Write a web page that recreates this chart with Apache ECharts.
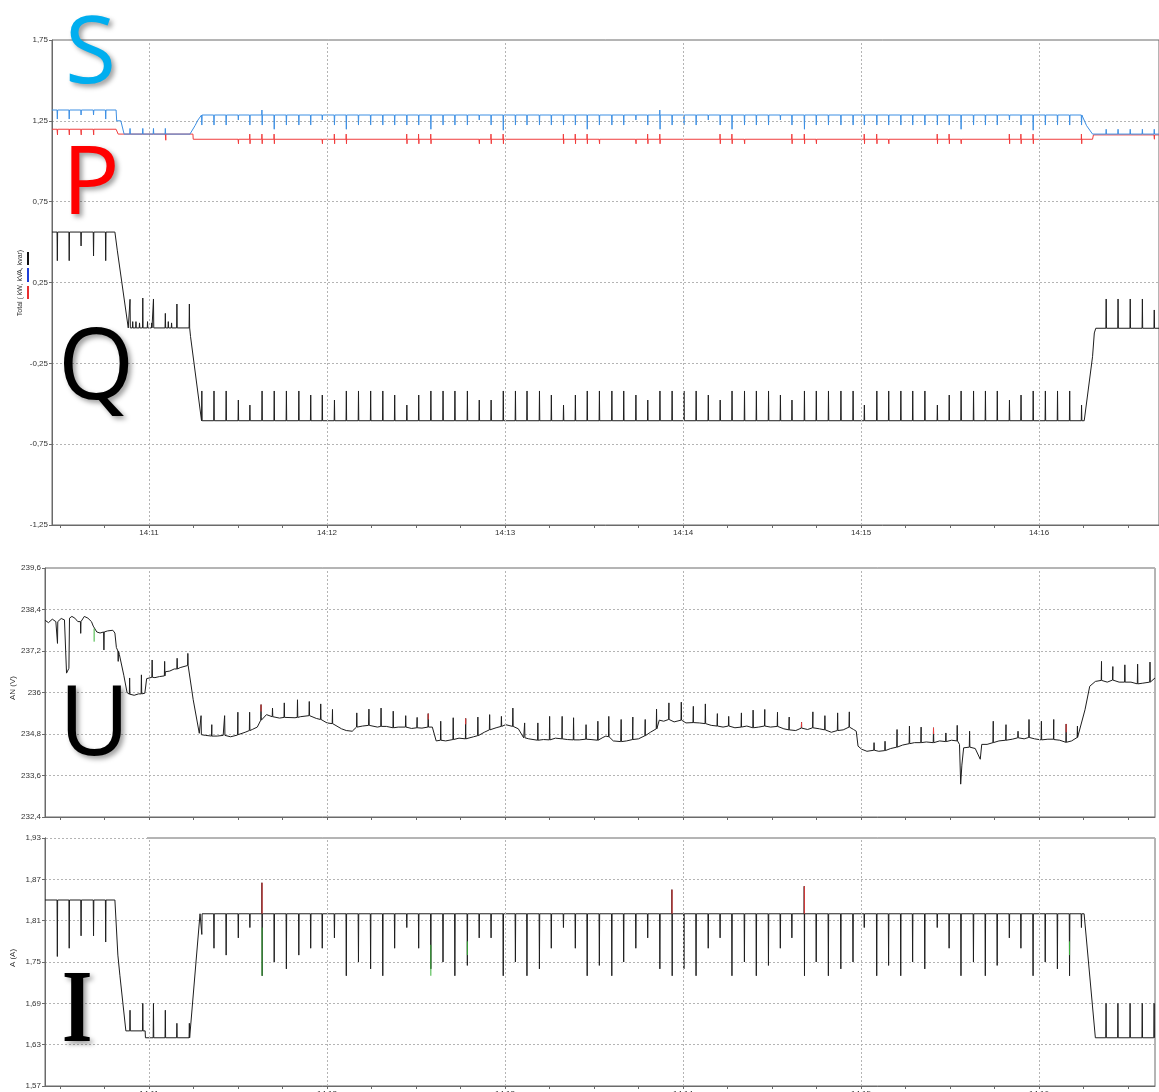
<!DOCTYPE html>
<html><head><meta charset="utf-8">
<script src="https://cdn.jsdelivr.net/npm/echarts@6/dist/echarts.min.js"></script>
<style>html,body{margin:0;padding:0;background:#fff}#c{width:1159px;height:1092px}</style>
</head><body><div id="c"></div>
<script>
// ---------- axes / ticks ----------
const xLabelSec = [60, 120, 180, 240, 300, 360];
const xLabelText = ['14:11', '14:12', '14:13', '14:14', '14:15', '14:16'];
const xMinorSec = [30,45,60,75,90,105,120,135,150,165,180,195,210,225,240,255,270,285,300,315,330,345,360,375,390];
const yTopLabels = ['-1,25', '-0,75', '-0,25', '0,25', '0,75', '1,25', '1,75'];
const yMidLabels = ['232,4', '233,6', '234,8', '236', '237,2', '238,4', '239,6'];
const yBotLabels = ['1,57', '1,63', '1,69', '1,75', '1,81', '1,87', '1,93'];

// ---------- shared pulse times (s after 14:10:00) ----------
const pulseT = [77.8,81.9,86.0,90.1,94.0,98.1,102.2,106.3,110.5,114.5,118.4,122.5,126.5,130.6,134.7,138.8,142.8,146.9,150.9,155.0,
  159.1,163.1,167.3,171.3,175.3,179.4,183.5,187.4,191.6,195.6,199.7,203.7,207.7,211.8,216.0,220.0,224.1,228.1,232.2,236.3,
  240.3,244.4,248.5,252.5,256.5,260.7,264.7,268.8,272.8,276.7,280.9,284.9,289.0,293.2,297.3,301.1,305.3,309.3,313.4,317.4,
  321.5,325.7,329.7,333.7,337.9,341.9,345.9,350.0,353.9,358.0,362.1,366.2,370.3,374.3];
const leftPulseT = [29.1, 33.1, 37.1, 41.3, 45.4];
const lowPulseT = [53.6, 57.9, 61.5, 65.5, 69.4, 73.6];
const rightPulseT = [382.6, 386.6, 390.7, 394.8, 398.8];

// ---------- Q (kvar) ----------
const qBaseT = [27.3, 48.5, 49.3, 53.0, 73.8, 74.0, 77.8, 375.2, 378.0, 378.6, 379.1, 400.4];
const qBaseV = [0.562, 0.562, 0.45, -0.031, -0.031, -0.085, -0.605, -0.605, -0.209, -0.062, -0.033, -0.033];
const qPulse = [-0.421,-0.421,-0.421,-0.477,-0.508,-0.421,-0.421,-0.421,-0.421,-0.446,-0.446,-0.477,-0.421,-0.421,-0.421,-0.421,-0.446,-0.508,-0.446,-0.421,
  -0.421,-0.421,-0.421,-0.477,-0.477,-0.421,-0.421,-0.421,-0.421,-0.446,-0.508,-0.446,-0.421,-0.421,-0.421,-0.421,-0.446,-0.477,-0.421,-0.421,
  -0.421,-0.421,-0.446,-0.477,-0.421,-0.421,-0.421,-0.421,-0.446,-0.477,-0.421,-0.421,-0.421,-0.421,-0.421,-0.508,-0.421,-0.421,-0.421,-0.421,
  -0.421,-0.508,-0.446,-0.421,-0.421,-0.421,-0.421,-0.477,-0.446,-0.421,-0.421,-0.421,-0.421,-0.508];
const qLeft = [0.385, 0.385, 0.476, 0.414, 0.385];
const qLow = [0.146, 0.154, 0.148, 0.059, 0.117, 0.117];
const qSmallT = [54.5, 55.6, 56.8, 59.5, 60.9, 66.5, 67.6];
const qSmallV = [0.008, 0.008, 0.0, 0.008, 0.0, 0.008, 0.0];
const qRight = [0.148, 0.148, 0.148, 0.148, 0.080];

// ---------- S (kVA) ----------
const sBaseT = [27.3, 48.9, 49.1, 50.5, 51.6, 73.8, 75.5, 76.5, 77.7, 374.3, 376.0, 378.0, 400.4];
const sBaseV = [1.317, 1.317, 1.25, 1.25, 1.168, 1.168, 1.22, 1.255, 1.286, 1.286, 1.22, 1.168, 1.168];
const sPulse = [1.224,1.224,1.224,1.255,1.224,1.224,1.198,1.224,1.224,1.224,1.255,1.224,1.198,1.224,1.224,1.224,1.224,1.224,1.224,1.198,
  1.224,1.224,1.224,1.255,1.224,1.192,1.224,1.224,1.224,1.224,1.224,1.224,1.198,1.224,1.224,1.224,1.255,1.224,1.198,1.224,
  1.224,1.224,1.255,1.224,1.198,1.224,1.224,1.224,1.255,1.224,1.198,1.224,1.224,1.224,1.224,1.224,1.224,1.224,1.224,1.224,
  1.224,1.224,1.224,1.198,1.224,1.224,1.224,1.255,1.224,1.192,1.224,1.224,1.224,1.224];
const sUpT = [98.1, 232.2];
const sUpV = [1.317, 1.317];
const sLeft = [1.261, 1.261, 1.286, 1.286, 1.261];
const sLowT = [53.6, 57.9, 61.5, 65.5];
const sLowV = [1.203, 1.203, 1.203, 1.203];
const sRight = [1.198, 1.198, 1.198, 1.198, 1.198];

// ---------- P (kW) ----------
const pBaseT = [27.3, 48.9, 49.6, 74.8, 74.9, 378.0, 378.3, 400.4];
const pBaseV = [1.198, 1.198, 1.168, 1.168, 1.136, 1.136, 1.163, 1.163];
const pSpikeT = [29.1,33.1,37.1,41.3,65.6,90.1,94.0,98.1,102.2,118.4,122.5,126.5,146.9,150.9,155.0,171.3,175.3,179.4,199.7,203.7,
  207.7,211.8,224.1,228.1,232.2,252.5,256.5,260.7,276.7,280.9,284.9,301.1,305.3,309.3,325.7,329.7,333.7,350.0,353.9,358.0,374.3,398.8];
const pSpikeHi = [1.198,1.198,1.198,1.198,1.168,1.136,1.168,1.168,1.168,1.136,1.168,1.168,1.168,1.168,1.168,1.136,1.168,1.168,1.168,1.168,
  1.168,1.136,1.136,1.168,1.168,1.168,1.168,1.136,1.168,1.168,1.136,1.168,1.168,1.136,1.168,1.168,1.136,1.168,1.168,1.168,1.168,1.168];
const pSpikeLo = [1.163,1.163,1.163,1.163,1.13,1.108,1.108,1.108,1.108,1.108,1.108,1.108,1.108,1.108,1.108,1.108,1.108,1.108,1.108,1.108,
  1.108,1.108,1.108,1.108,1.108,1.108,1.108,1.108,1.108,1.108,1.108,1.108,1.108,1.108,1.108,1.108,1.108,1.108,1.108,1.108,1.108,1.136];

// ---------- U (V) ----------
const uT = [24.94,26.1,27.4,28.6,30.4,31.5,32.1,32.2,33.0,33.2,34.0,35.0,36.0,38.2,39.4,40.6,41.2,42.4,43.5,46.0,
  47.8,48.5,49.0,50.0,51.5,52.6,55.0,56.5,58.6,59.2,62.0,63.5,65.5,67.0,68.5,70.5,73.0,73.33,74.9,76.95,
  79.1,81.2,83.0,85.0,87.5,90.0,92.4,94.8,96.5,97.8,99.6,102.0,104.0,106.0,109.2,111.0,114.0,116.4,118.0,120.0,
  121.9,124.9,126.5,128.5,130.0,132.0,134.0,137.0,140.0,142.3,144.0,146.5,148.5,150.4,152.0,154.1,155.5,156.8,158.3,160.0,
  162.5,164.5,166.8,169.4,171.0,173.0,174.8,177.0,179.0,180.2,182.6,184.5,186.3,188.0,191.0,193.0,195.0,197.0,199.3,201.0,
  203.1,205.0,207.3,209.0,211.3,213.0,214.0,215.5,216.5,219.0,221.0,223.1,225.0,227.3,229.0,231.0,232.0,233.5,235.3,237.0,
  239.4,241.0,243.5,245.5,247.5,249.5,251.6,253.5,255.4,257.5,259.7,261.5,263.6,265.5,267.6,269.5,271.9,274.0,275.8,278.0,
  280.0,282.0,283.8,286.0,287.8,290.0,292.1,294.0,296.1,297.5,298.4,299.0,300.2,302.0,304.4,306.0,308.1,310.0,312.2,314.0,
  316.3,318.0,320.3,322.0,324.4,326.5,328.6,330.5,332.4,333.2,333.6,334.0,334.6,336.6,338.5,340.2,340.7,342.5,344.6,346.5,
  348.9,351.0,352.9,355.0,356.6,358.5,360.8,363.0,365.0,367.0,369.2,371.0,373.0,373.6,375.5,377.1,379.0,381.1,383.0,384.9,
  387.0,388.9,391.0,393.2,395.0,397.4,399.1];
const uV = [238.09,238.02,238.12,238.05,238.14,238.10,238.05,236.56,236.70,238.15,238.20,238.15,238.05,238.20,238.15,238.05,237.92,237.75,237.72,237.78,
  237.80,237.72,237.30,237.10,236.50,236.00,235.92,235.96,235.98,236.40,236.43,236.46,236.60,236.62,236.68,236.72,236.78,236.75,235.79,234.82,
  234.76,234.74,234.74,234.76,234.72,234.78,234.85,234.93,235.00,235.30,235.36,235.30,235.26,235.30,235.27,235.30,235.33,235.25,235.20,235.12,
  235.10,234.95,234.90,234.88,235.00,235.03,235.05,235.00,235.02,234.98,235.00,235.00,234.96,234.98,234.97,235.00,235.00,234.60,234.62,234.60,
  234.64,234.68,234.66,234.72,234.78,234.85,234.92,234.98,235.02,235.07,235.02,234.95,234.69,234.66,234.62,234.64,234.63,234.68,234.66,234.64,
  234.63,234.63,234.65,234.64,234.62,234.70,234.74,234.72,234.60,234.58,234.60,234.64,234.66,234.75,234.85,234.95,235.20,235.17,235.22,235.15,
  235.20,235.12,235.13,235.12,235.10,235.05,235.03,235.00,235.03,234.98,235.00,235.03,234.98,235.00,235.03,235.00,235.02,234.95,234.92,234.90,
  234.97,234.93,234.98,234.95,234.92,234.85,234.90,234.92,235.00,234.93,234.88,234.45,234.36,234.30,234.33,234.30,234.32,234.38,234.42,234.48,
  234.52,234.55,234.55,234.57,234.55,234.60,234.58,234.62,234.60,234.50,233.35,233.90,234.40,234.42,234.38,234.07,234.50,234.50,234.55,234.60,
  234.62,234.65,234.69,234.66,234.70,234.66,234.63,234.65,234.64,234.62,234.56,234.60,234.70,234.75,235.50,236.18,236.32,236.35,236.30,236.36,
  236.30,236.28,236.30,236.25,236.27,236.32,236.42];
const uSpikeT = [29.15,36.98,44.8,49.62,53.47,57.44,61.06,65.27,69.48,73.09,77.55,81.16,85.49,89.95,93.92,97.77,101.63,105.6,110.05,114.02,
  117.88,121.85,130.04,134.13,138.22,142.32,146.53,150.38,154.11,158.33,162.54,166.75,170.85,174.82,178.79,182.65,186.62,191.07,195.04,199.26,
  203.11,207.32,211.30,214.98,219.15,223.09,227.26,231.08,235.25,239.42,243.48,247.53,251.58,255.40,259.69,263.63,267.56,271.85,275.79,279.96,
  283.78,287.83,292.12,296.06,304.40,308.10,312.15,316.33,320.26,324.44,328.61,332.43,336.60,344.58,348.88,352.93,356.63,360.80,364.97,369.15,
  372.96,381.07,384.89,388.94,393.24,397.41];
const uSpikeBase = [238.05,238.05,237.75,237.20,235.95,235.96,236.44,236.48,236.68,236.78,234.78,234.74,234.76,234.77,234.90,235.20,235.30,235.28,235.28,235.33,
  235.22,235.10,235.00,235.05,235.02,234.98,235.00,234.98,235.00,234.62,234.64,234.66,234.75,234.92,235.02,235.02,234.69,234.62,234.63,234.66,
  234.63,234.65,234.62,234.72,234.58,234.64,234.75,234.95,235.22,235.20,235.13,235.10,235.03,235.03,235.00,234.98,235.03,235.02,234.92,234.97,
  234.98,234.92,234.90,235.00,234.33,234.32,234.42,234.52,234.55,234.55,234.58,234.60,234.42,234.55,234.62,234.69,234.70,234.63,234.65,234.56,
  234.70,236.35,236.36,236.30,236.25,236.30];
const uSpikePeak = [237.42,237.71,237.23,236.90,236.42,236.51,236.94,236.90,236.99,237.13,235.33,235.07,235.33,235.43,235.43,235.65,235.55,235.70,235.79,235.74,
  235.67,235.51,235.41,235.52,235.55,235.46,235.33,235.28,235.39,235.17,235.27,235.25,235.29,235.36,235.31,235.55,235.12,235.12,235.31,235.31,
  235.27,235.07,235.17,235.31,235.22,235.29,235.22,235.52,235.70,235.72,235.60,235.67,235.39,235.31,235.41,235.49,235.51,235.43,235.29,235.14,
  235.44,235.33,235.41,235.44,234.55,234.59,234.93,235.03,235.00,234.98,234.83,235.05,234.88,235.17,235.07,234.88,235.22,235.17,235.22,235.09,
  235.03,236.90,236.75,236.80,236.82,236.88];
const uRedT = [97.77, 154.11, 166.75, 279.96, 324.44, 369.15];
const uRedLo = [235.45, 235.22, 235.08, 234.99, 234.80, 234.85];
const uRedHi = [235.65, 235.39, 235.25, 235.14, 234.98, 235.09];
const uGreenT = [41.5];
const uGreenLo = [237.47];
const uGreenHi = [237.85];

// ---------- I (A) ----------
const iBaseT = [24.94, 48.5, 49.5, 50.2, 52.2, 58.7, 58.8, 73.5, 77.2, 375.2, 379.0, 399.1];
const iBaseV = [1.84, 1.84, 1.76, 1.73, 1.65, 1.65, 1.64, 1.64, 1.82, 1.82, 1.64, 1.64];
const iPulse = [1.79,1.77,1.76,1.785,1.80,1.73,1.75,1.74,1.76,1.77,1.77,1.785,1.73,1.75,1.74,1.73,1.77,1.80,1.77,1.74,
  1.75,1.73,1.745,1.785,1.785,1.73,1.75,1.73,1.74,1.77,1.80,1.77,1.73,1.745,1.73,1.75,1.77,1.785,1.74,1.73,
  1.74,1.73,1.77,1.785,1.73,1.75,1.73,1.745,1.77,1.785,1.73,1.75,1.73,1.74,1.75,1.80,1.73,1.745,1.73,1.75,
  1.74,1.80,1.77,1.73,1.75,1.73,1.745,1.785,1.77,1.73,1.75,1.74,1.73,1.80];
const iUpT = [98.1, 236.3, 280.9];
const iUpV = [1.865, 1.855, 1.86];
const iLeft = [1.758, 1.77, 1.788, 1.788, 1.779];
const iLow = [1.68, 1.69, 1.69, 1.68, 1.661, 1.661];
const iRight = [1.69, 1.69, 1.69, 1.69, 1.69];
const iRedT = [98.1, 236.3, 280.9];
const iRedLo = [1.82, 1.82, 1.82];
const iRedHi = [1.865, 1.855, 1.86];
const iGreenT = [98.1, 155.0, 167.3, 370.3];
const iGreenLo = [1.73, 1.73, 1.76, 1.76];
const iGreenHi = [1.80, 1.775, 1.78, 1.78];

// ---------- builders ----------
function levelAt(bt, bv, t) {
  let i = 0;
  while (i < bt.length - 1 && bt[i + 1] <= t) i++;
  return bv[i];
}
function buildLine(bt, bv, groups) {
  const pts = bt.map((t, i) => [t, bv[i]]);
  groups.forEach(g => {
    const t = g[0], vals = g[1];
    const b = g.length > 2 ? g[2] : levelAt(bt, bv, t);
    const w = 0.1;
    pts.push([t - w, b]);
    if (vals.length === 1) pts.push([t, vals[0]]);
    else vals.forEach((v, k) => pts.push([t - w * 0.5 + w * k / (vals.length - 1), v]));
    pts.push([t + w, b]);
  });
  pts.sort((a, b) => a[0] - b[0]);
  return pts;
}
function segs(ts, lo, hi) {
  const out = [];
  ts.forEach((t, i) => { out.push([t, lo[i]]); out.push([t, hi[i]]); out.push([t, '-']); });
  return out;
}

const qGroups = [];
pulseT.forEach((t, i) => qGroups.push([t, [qPulse[i]]]));
leftPulseT.forEach((t, i) => qGroups.push([t, [qLeft[i]]]));
lowPulseT.forEach((t, i) => qGroups.push([t, [qLow[i]]]));
qSmallT.forEach((t, i) => qGroups.push([t, [qSmallV[i]]]));
rightPulseT.forEach((t, i) => qGroups.push([t, [qRight[i]]]));

const sGroups = [];
pulseT.forEach((t, i) => {
  const k = sUpT.indexOf(t);
  sGroups.push([t, k >= 0 ? [sUpV[k], sPulse[i]] : [sPulse[i]]]);
});
leftPulseT.forEach((t, i) => sGroups.push([t, [sLeft[i]]]));
sLowT.forEach((t, i) => sGroups.push([t, [sLowV[i]]]));
rightPulseT.forEach((t, i) => sGroups.push([t, [sRight[i]]]));

const pGroups = pSpikeT.map((t, i) => [t, [pSpikeHi[i], pSpikeLo[i]]]);

const uGroups = uSpikeT.map((t, i) => [t, [uSpikePeak[i]], uSpikeBase[i]]);

const iGroups = [];
pulseT.forEach((t, i) => {
  const k = iUpT.indexOf(t);
  iGroups.push([t, k >= 0 ? [iUpV[k], iPulse[i]] : [iPulse[i]]]);
});
leftPulseT.forEach((t, i) => iGroups.push([t, [iLeft[i]]]));
lowPulseT.forEach((t, i) => iGroups.push([t, [iLow[i]]]));
rightPulseT.forEach((t, i) => iGroups.push([t, [iRight[i]]]));

// ---------- chart ----------
const FONT = '"Liberation Sans", Arial, sans-serif';
const gridLineStyle = { color: '#b4b4b4', type: [2, 2], width: 1 };
function xAxisDef(g, min, max, showLabel) {
  return {
    type: 'value', gridIndex: g, min: min, max: max,
    axisLine: { show: true, onZero: false, lineStyle: { color: '#6a6a6a', width: 1 } },
    axisTick: { show: true, inside: false, length: 3, lineStyle: { color: '#6a6a6a' }, customValues: xMinorSec },
    axisLabel: {
      show: showLabel, customValues: xLabelSec, fontSize: 8, color: '#333', margin: 4, fontFamily: FONT,
      formatter: v => xLabelText[xLabelSec.indexOf(Math.round(v))] || ''
    },
    splitLine: { show: false }
  };
}
function yAxisDef(g, min, max, interval, labels) {
  return {
    type: 'value', gridIndex: g, min: min, max: max, interval: interval,
    axisLine: { show: true, onZero: false, lineStyle: { color: '#6a6a6a', width: 1 } },
    axisTick: { show: true, length: 3, lineStyle: { color: '#6a6a6a' } },
    axisLabel: { fontSize: 8, color: '#333', margin: 4, fontFamily: FONT, formatter: (v, i) => labels[i] },
    splitLine: { show: true, lineStyle: gridLineStyle }
  };
}
function vGrid(xi) {
  return {
    type: 'line', xAxisIndex: xi, yAxisIndex: xi, data: [], z: 1, silent: true,
    markLine: { silent: true, symbol: ['none', 'none'], label: { show: false }, animation: false,
      lineStyle: { color: '#b4b4b4', type: [2, 2], width: 1 },
      emphasis: { disabled: true },
      data: xLabelSec.map(v => ({ xAxis: v })) }
  };
}
function lineS(xi, data, color, z) {
  return { type: 'line', xAxisIndex: xi, yAxisIndex: xi, data: data, showSymbol: false, symbol: 'none',
    lineStyle: { color: color, width: 1 }, itemStyle: { color: color }, z: z || 3, silent: true,
    connectNulls: false, animation: false, emphasis: { disabled: true } };
}
const shadow = { textShadowColor: 'rgba(0,0,0,0.38)', textShadowBlur: 5, textShadowOffsetX: 3, textShadowOffsetY: 3 };
function letter(t, x, y, font, fill, extra) {
  return Object.assign({ type: 'text', x: x, y: y, z: 100,
    style: Object.assign({ text: t, font: font, fill: fill, align: 'left', verticalAlign: 'middle' }, shadow) }, extra || {});
}

const chart = echarts.init(document.getElementById('c'), null, { renderer: 'canvas' });
chart.setOption({
  animation: false,
  backgroundColor: '#fff',
  grid: [
    { left: 52, top: 40, width: 1107, height: 485, show: true, borderColor: '#6a6a6a', borderWidth: 1, containLabel: false, outerBoundsMode: 'none' },
    { left: 45, top: 568, width: 1110, height: 249, show: true, borderColor: '#6a6a6a', borderWidth: 1, containLabel: false, outerBoundsMode: 'none' },
    { left: 45, top: 838, width: 1110, height: 248, show: true, borderColor: '#6a6a6a', borderWidth: 1, containLabel: false, outerBoundsMode: 'none' }
  ],
  xAxis: [xAxisDef(0, 27.3, 400.4, true), xAxisDef(1, 24.94, 399.1, false), xAxisDef(2, 24.94, 399.1, true)],
  yAxis: [yAxisDef(0, -1.25, 1.75, 0.5, yTopLabels), yAxisDef(1, 232.4, 239.6, 1.2, yMidLabels), yAxisDef(2, 1.57, 1.93, 0.06, yBotLabels)],
  series: [
    vGrid(0), vGrid(1), vGrid(2),
    lineS(0, buildLine(qBaseT, qBaseV, qGroups), '#1e1e1e'),
    lineS(0, buildLine(pBaseT, pBaseV, pGroups), '#f03c3c'),
    lineS(0, buildLine(sBaseT, sBaseV, sGroups), '#3d8fe3', 4),
    lineS(1, buildLine(uT, uV, uGroups), '#1e1e1e'),
    lineS(1, segs(uRedT, uRedLo, uRedHi), '#f03c3c', 5),
    lineS(1, segs(uGreenT, uGreenLo, uGreenHi), '#3cb43c', 5),
    lineS(2, buildLine(iBaseT, iBaseV, iGroups), '#1e1e1e'),
    lineS(2, segs(iRedT, iRedLo, iRedHi), '#f03c3c', 5),
    lineS(2, segs(iGreenT, iGreenLo, iGreenHi), '#3cb43c', 5)
  ],
  graphic: [
    { type: 'rect', shape: { x: 46, y: 837, width: 101, height: 2 }, style: { fill: '#fff' }, z: 40 },
    { type: 'line', shape: { x1: 46, y1: 838.5, x2: 147, y2: 838.5 }, style: { stroke: '#b4b4b4', lineWidth: 1, lineDash: [2, 2] }, z: 41 },
    { type: 'text', x: 20, y: 283, rotation: Math.PI / 2, z: 50,
      style: { text: 'Total ( kW, kVA, kvar)', font: '7px ' + FONT, fill: '#333', align: 'center', verticalAlign: 'middle' } },
    { type: 'rect', shape: { x: 27, y: 252, width: 2, height: 13 }, style: { fill: '#111' }, z: 50 },
    { type: 'rect', shape: { x: 27, y: 268, width: 2, height: 14 }, style: { fill: '#1f3fd8' }, z: 50 },
    { type: 'rect', shape: { x: 27, y: 286, width: 2, height: 13 }, style: { fill: '#e83030' }, z: 50 },
    { type: 'text', x: 13, y: 688, rotation: Math.PI / 2, z: 50,
      style: { text: 'AN (V)', font: '8px ' + FONT, fill: '#333', align: 'center', verticalAlign: 'middle' } },
    { type: 'text', x: 13, y: 958, rotation: Math.PI / 2, z: 50,
      style: { text: 'A (A)', font: '8px ' + FONT, fill: '#333', align: 'center', verticalAlign: 'middle' } },
    letter('S', 65, 56, '93px "Open Sans"', '#00aeef'),
    letter('P', 62, 187, '96px "Open Sans"', '#ff0000'),
    letter('Q', 58, 371, '98px "Open Sans"', '#000000'),
    letter('U', 59, 727, '97px "Open Sans"', '#000000'),
    letter('I', 62, 1014, 'bold 104px "Liberation Serif"', '#000000', { scaleX: 0.75 })
  ]
});
</script>
</body></html>
